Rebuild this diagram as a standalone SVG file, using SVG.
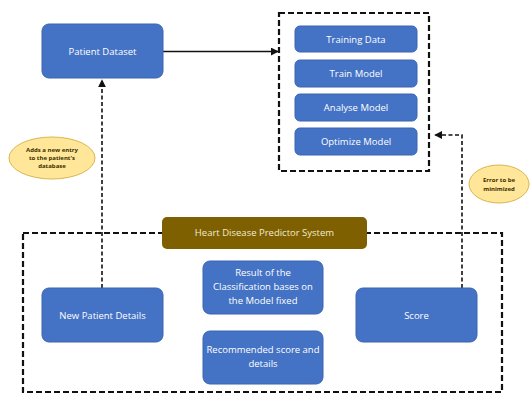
<svg xmlns="http://www.w3.org/2000/svg" width="531" height="396" viewBox="0 0 531 396">
<defs>
<style>
.box{fill:#4472C4;stroke:#3a64b0;stroke-width:1}
.t{font-family:"Open Sans","Liberation Sans",sans-serif;font-size:9.5px;fill:#ffffff;text-anchor:middle}
.note{fill:#FFE699;stroke:#d9b64e;stroke-width:1}
.nt{font-family:"Open Sans","Liberation Sans",sans-serif;font-size:6px;fill:#3a3000;text-anchor:middle;font-weight:bold}
.dash{fill:none;stroke:#111;stroke-width:2.2;stroke-dasharray:6,3}
.dl{fill:none;stroke:#111;stroke-width:1.6;stroke-dasharray:4,2.5}
</style>
<marker id="ah" viewBox="0 0 10 10" refX="9" refY="5" markerWidth="5" markerHeight="5" orient="auto"><path d="M0,0 L10,5 L0,10 z" fill="#111"/></marker>
</defs>
<rect width="531" height="396" fill="#ffffff"/>
<g id="connectors">
<line x1="163" y1="51.5" x2="278" y2="51.5" stroke="#111" stroke-width="1.6" marker-end="url(#ah)"/>
<polyline class="dl" points="102,288 102,80" marker-end="url(#ah)"/>
<polyline class="dl" points="462,288 462,135 435,135" marker-end="url(#ah)"/>
</g>
<g id="model-group"><rect class="dash" x="279" y="13" width="150" height="158"/></g>
<g id="system-group"><rect class="dash" x="23" y="233" width="479" height="159"/></g>
<g id="patient-dataset"><rect class="box" x="42" y="24" width="121" height="54" rx="7"/><text class="t" x="102.5" y="55">Patient Dataset</text></g>
<g id="training-data"><rect class="box" x="295" y="26" width="122" height="26" rx="5"/><text class="t" x="356" y="42.5">Training Data</text></g>
<g id="train-model"><rect class="box" x="295" y="60" width="122" height="27" rx="5"/><text class="t" x="356" y="77">Train Model</text></g>
<g id="analyse-model"><rect class="box" x="295" y="94" width="122" height="27" rx="5"/><text class="t" x="356" y="111">Analyse Model</text></g>
<g id="optimize-model"><rect class="box" x="295" y="128" width="122" height="27" rx="5"/><text class="t" x="356" y="145">Optimize Model</text></g>
<g id="note-adds"><ellipse class="note" cx="52" cy="158" rx="43" ry="21"/><text class="nt" x="52" y="152">Adds a new entry</text><text class="nt" x="52" y="160">to the patient's</text><text class="nt" x="52" y="168">database</text></g>
<g id="note-error"><ellipse class="note" cx="499" cy="184" rx="30" ry="19"/><text class="nt" x="499" y="182">Error to be</text><text class="nt" x="499" y="191">minimized</text></g>
<g id="heart-disease-predictor"><rect x="162" y="217" width="205" height="32" rx="5" fill="#7F6000"/><text class="t" x="264.5" y="236" fill="#f3ead2" style="fill:#f3ead2">Heart Disease Predictor System</text></g>
<g id="new-patient-details"><rect class="box" x="42" y="288" width="121" height="54" rx="7"/><text class="t" x="102.5" y="318.5">New Patient Details</text></g>
<g id="result"><rect class="box" x="203" y="261" width="120" height="53" rx="7"/><text class="t" x="263" y="276">Result of the</text><text class="t" x="263" y="290">Classification bases on</text><text class="t" x="263" y="304">the Model fixed</text></g>
<g id="recommended"><rect class="box" x="203" y="331" width="120" height="53" rx="7"/><text class="t" x="263" y="353">Recommended score and</text><text class="t" x="263" y="367">details</text></g>
<g id="score"><rect class="box" x="356" y="288" width="121" height="54" rx="7"/><text class="t" x="416.5" y="318.5">Score</text></g>
</svg>
